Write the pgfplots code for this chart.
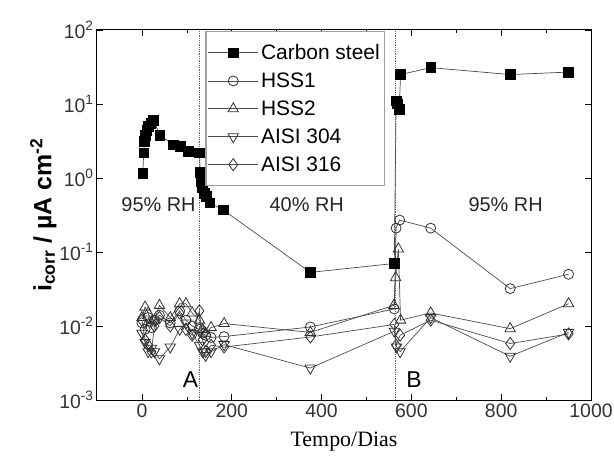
\documentclass[border=0pt]{standalone}
\usepackage{fontspec}
\setmainfont{Liberation Sans}
\newfontfamily\timesfont{Liberation Serif}
\usepackage{pgfplots}
\pgfplotsset{compat=1.18}

\begin{document}
\begin{tikzpicture}[x=1bp,y=1bp]
\path[use as bounding box] (-97,-66) rectangle (517,400);
\begin{axis}[
  at={(0,0)}, anchor=south west,
  scale only axis, width=494bp, height=370bp,
  xmin=-100, xmax=1000,
  ymode=log, log basis y=10, ymin=1e-3, ymax=1e2,
  xtick={0,200,...,1000}, minor x tick num=1,
  ytick={1e-3,1e-2,1e-1,1,10,100},
  yticklabels={10\textsuperscript{-3},10\textsuperscript{-2},10\textsuperscript{-1},10\textsuperscript{0},10\textsuperscript{1},10\textsuperscript{2}},
  tick align=inside, tick pos=both,
  major tick length=6bp, minor tick length=3.5bp,
  every tick/.style={black, line width=0.6bp},
  axis line style={line width=1bp},
  /pgf/number format/assume math mode=true,
  /pgf/number format/1000 sep={},
  tick label style={font=\fontsize{19.5}{21}\selectfont, text=black!80},
  ylabel={\bfseries i\textsubscript{corr} / µA cm\textsuperscript{-2}},
  ylabel style={font=\fontsize{25}{27}\selectfont, yshift=-4bp},
  xlabel={\timesfont Tempo/Dias},
  xlabel style={font=\fontsize{22}{24}\selectfont, yshift=-8bp},
  legend style={at={(0.219,0.998)}, anchor=north west, draw=gray!75,
    line width=1.4bp, row sep=9.8bp, inner xsep=2bp, inner ysep=12bp,
    nodes={font=\fontsize{21}{23}\selectfont, inner xsep=2.5bp, inner ysep=1bp}},
  legend cell align=left,
  legend image code/.code={\draw[mark repeat=2,mark phase=2,#1]
    plot coordinates {(0bp,0bp)(25bp,0bp)(50bp,0bp)};},
  every axis plot/.append style={black!70, line width=0.7bp},
]
\draw[black!60, densely dotted, line width=0.8bp] (axis cs:127,1e-3) -- (axis cs:127,1e2);
\draw[black!60, densely dotted, line width=0.8bp] (axis cs:564,1e-3) -- (axis cs:564,1e2);

\addplot[mark=square*, mark size=4.8bp, mark options={solid, draw=black, fill=black}] coordinates {
  (2,1.15)(4,2.2)(6,3.1)(8,3.8)(11,4.4)(15,5.0)(20,5.5)(26,6.0)(40,3.8)(70,2.8)
  (85,2.7)(104,2.3)(128,2.2)(130,1.2)(132,0.9)(135,0.75)(139,0.62)(143,0.56)
  (151,0.46)(181,0.37)(375,0.053)(562,0.07)(566,11)(569,10)(573,8.5)(576,25)
  (643,31)(820,25)(950,27)};
\addlegendentry{Carbon steel}

\addplot[mark=o, mark size=5bp, mark options={solid, draw=black!80, fill=white, line width=0.8bp}] coordinates {
  (0,0.011)(7,0.009)(14,0.013)(21,0.0095)(28,0.012)(39,0.014)(63,0.011)(84,0.016)
  (98,0.012)(112,0.010)(128,0.009)(135,0.008)(142,0.0075)(154,0.007)(183,0.0072)
  (375,0.0097)(562,0.017)(566,0.21)(574,0.27)(643,0.21)(820,0.032)(950,0.05)};
\addlegendentry{HSS1}

\addplot[mark=triangle, mark size=6bp, mark options={solid, draw=black!80, fill=white, line width=0.8bp}] coordinates {
  (0,0.013)(7,0.018)(14,0.015)(21,0.011)(28,0.012)(39,0.019)(63,0.013)(84,0.020)
  (98,0.020)(112,0.015)(128,0.012)(135,0.009)(142,0.008)(154,0.0095)(183,0.0108)
  (375,0.0082)(561,0.019)(565,0.045)(571,0.11)(576,0.012)(643,0.015)(820,0.0092)(950,0.020)};
\addlegendentry{HSS2}

\addplot[mark=triangle, mark size=6bp, mark options={solid, rotate=180, draw=black!80, fill=white, line width=0.8bp}] coordinates {
  (0,0.008)(7,0.006)(14,0.0045)(21,0.005)(28,0.0045)(39,0.0036)(63,0.0052)(84,0.009)
  (98,0.011)(112,0.008)(128,0.0055)(135,0.0045)(142,0.004)(154,0.0045)(183,0.0056)
  (375,0.0027)(562,0.0085)(567,0.0052)(575,0.0045)(643,0.013)(820,0.0039)(950,0.0082)};
\addlegendentry{AISI 304}

\addplot[mark=diamond, mark size=6bp, mark options={solid, draw=black!80, fill=white, line width=0.8bp}] coordinates {
  (0,0.012)(7,0.0065)(14,0.0055)(21,0.0045)(28,0.010)(39,0.013)(63,0.010)(84,0.015)
  (98,0.009)(112,0.0075)(128,0.016)(135,0.0065)(142,0.0045)(154,0.0055)(183,0.0052)
  (375,0.0071)(562,0.0105)(566,0.0055)(575,0.0075)(643,0.012)(820,0.0058)(950,0.0078)};
\addlegendentry{AISI 316}

\node[font=\fontsize{20}{22}\selectfont, text=black!85] at (axis cs:37,0.44) {95\% RH};
\node[font=\fontsize{20}{22}\selectfont, text=black!85] at (axis cs:367,0.44) {40\% RH};
\node[font=\fontsize{20}{22}\selectfont, text=black!85] at (axis cs:810,0.44) {95\% RH};
\node[font=\fontsize{23}{25}\selectfont] at (axis cs:108,0.0019) {A};
\node[font=\fontsize{23}{25}\selectfont] at (axis cs:606,0.0019) {B};
\end{axis}
\end{tikzpicture}
\end{document}
